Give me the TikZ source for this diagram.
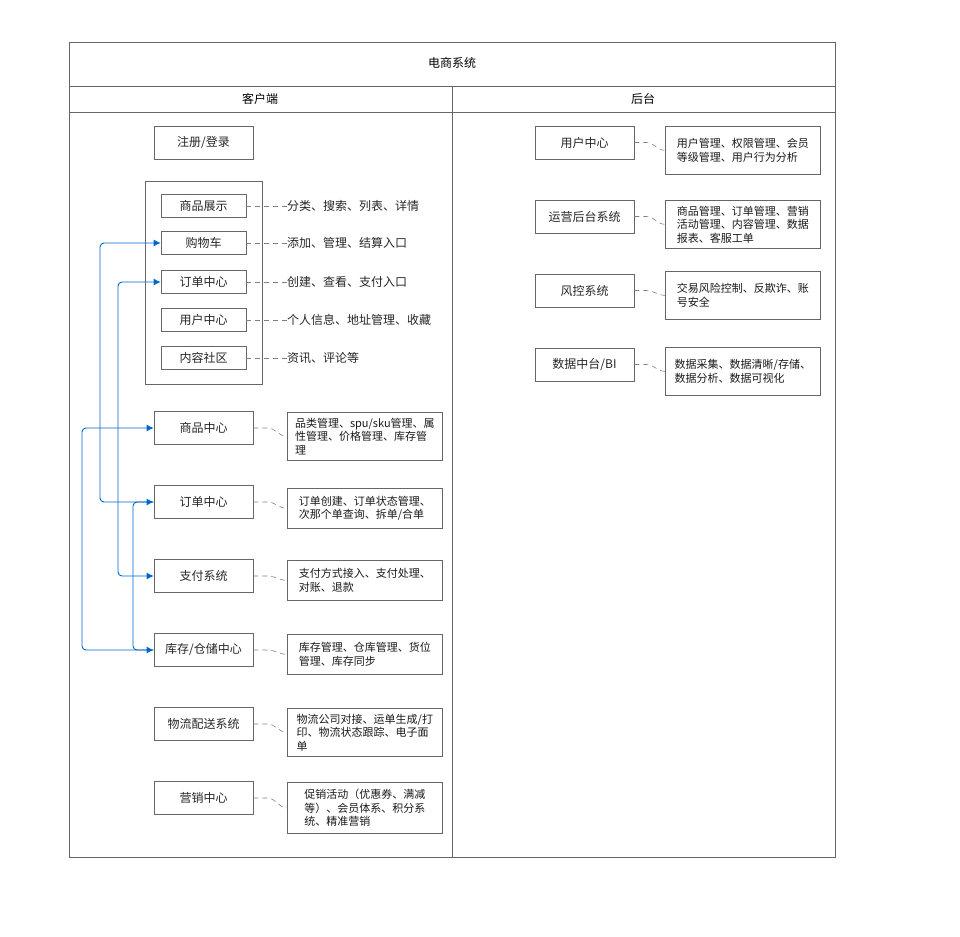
\documentclass[tikz,border=0pt]{standalone}
\usepackage{fontspec}
\setmainfont{Noto Sans CJK SC}
\begin{document}
\begin{tikzpicture}[x=1pt,y=-1pt,
  box/.style={draw=black!60,line width=0.7pt,fill=white,font=\fontsize{12}{14}\selectfont,text=black!85,inner sep=0pt},
  desc/.style={draw=black!60,line width=0.7pt,anchor=north west,align=left,font=\fontsize{11}{13.5}\selectfont,text=black!90,inner sep=1.5pt},
  plain/.style={anchor=west,font=\fontsize{12}{14}\selectfont,text=black!85,inner sep=0pt},
  lead/.style={draw=black!50,dashed,dash pattern=on 5pt off 4pt,line width=0.6pt},
  flow/.style={draw=blue!50!cyan!80!black,line width=0.9pt,-{Latex[length=7pt,width=7pt]},rounded corners=4pt}]
\usetikzlibrary{arrows.meta}
\useasboundingbox (0,0) rectangle (960,936);
% frame
\draw[black!60,line width=0.7pt] (69,42) rectangle (835,857);
\draw[black!60,line width=0.7pt] (69,86) -- (835,86) (69,112) -- (835,112) (452,86) -- (452,857);
\node[font=\fontsize{12}{14}\selectfont] (title) at (452,63) {电商系统};
\node[font=\fontsize{12}{14}\selectfont] (hl) at (260,99) {客户端};
\node[font=\fontsize{12}{14}\selectfont] (hr) at (643,99) {后台};
% left column
\node[box,minimum width=99,minimum height=33] (login) at (203.5,142.5) {注册/登录};
\draw[black!60,line width=0.7pt] (145,181) rectangle (262,384);
\foreach \n/\t/\y/\d in {s1/商品展示/206/{分类、搜索、列表、详情},s2/购物车/243/{添加、管理、结算入口},s3/订单中心/282/{创建、查看、支付入口},s4/用户中心/320/{个人信息、地址管理、收藏},s5/内容社区/358/{资讯、评论等}}{
  \node[box,minimum width=85,minimum height=23] (\n) at (203.5,\y) {\t};
  \node[plain] (\n d) at (287,\y) {\d};
  \draw[lead] (\n.east) -- (\n d.west);
}
\node[box,minimum width=99,minimum height=33] (goods) at (203.5,428) {商品中心};
\node[box,minimum width=99,minimum height=33] (order) at (203.5,502) {订单中心};
\node[box,minimum width=99,minimum height=33] (pay) at (203.5,576) {支付系统};
\node[box,minimum width=99,minimum height=33] (stock) at (203.5,650) {库存/仓储中心};
\node[box,minimum width=99,minimum height=33] (ship) at (203.5,724) {物流配送系统};
\node[box,minimum width=99,minimum height=33] (mkt) at (203.5,798) {营销中心};
\node[desc,minimum width=155,minimum height=48] (goodsd) at (287,412) {品类管理、spu/sku管理、属\\性管理、价格管理、库存管\\理};
\node[desc,minimum width=155,minimum height=40] (orderd) at (287,488) {订单创建、订单状态管理、\\次那个单查询、拆单/合单};
\node[desc,minimum width=155,minimum height=40] (payd) at (287,560) {支付方式接入、支付处理、\\对账、退款};
\node[desc,minimum width=155,minimum height=40] (stockd) at (287,634) {库存管理、仓库管理、货位\\管理、库存同步};
\node[desc,minimum width=155,minimum height=48] (shipd) at (287,708) {物流公司对接、运单生成/打\\印、物流状态跟踪、电子面\\单};
\node[desc,minimum width=155,minimum height=51] (mktd) at (287,782) {促销活动（优惠券、满减\\等）、会员体系、积分系\\统、精准营销};
\foreach \a in {goods,order,pay,stock,ship,mkt}{
  \draw[lead] (\a.east) -- ++(14,0) to[out=0,in=180] (\a d.west);
}
% right column
\node[box,minimum width=99,minimum height=33] (uc) at (584.5,142.5) {用户中心};
\node[box,minimum width=99,minimum height=33] (ops) at (584.5,216.5) {运营后台系统};
\node[box,minimum width=99,minimum height=33] (risk) at (584.5,290.5) {风控系统};
\node[box,minimum width=99,minimum height=33] (bi) at (584.5,364.5) {数据中台/BI};
\node[desc,minimum width=155,minimum height=48] (ucd) at (665,126) {用户管理、权限管理、会员\\等级管理、用户行为分析};
\node[desc,minimum width=155,minimum height=48] (opsd) at (665,200) {商品管理、订单管理、营销\\活动管理、内容管理、数据\\报表、客服工单};
\node[desc,minimum width=155,minimum height=48] (riskd) at (665,271) {交易风险控制、反欺诈、账\\号安全};
\node[desc,minimum width=155,minimum height=48] (bid) at (665,347) {数据采集、数据清晰/存储、\\数据分析、数据可视化};
\foreach \a in {uc,ops,risk,bi}{
  \draw[lead] (\a.east) -- ++(12,0) to[out=0,in=180] (\a d.west);
}
% flows
\draw[flow] (order.west) -| (100,380) |- (s2.west);
\draw[flow,{Latex[length=7pt,width=7pt]}-{Latex[length=7pt,width=7pt]}] (pay.west) -| (118,430) |- (s3.west);
\draw[flow,{Latex[length=7pt,width=7pt]}-{Latex[length=7pt,width=7pt]}] (goods.west) -| (82,540) |- (stock.west);
\draw[flow] (stock.west) -| (133,560) |- (order.west);
\end{tikzpicture}
\end{document}
